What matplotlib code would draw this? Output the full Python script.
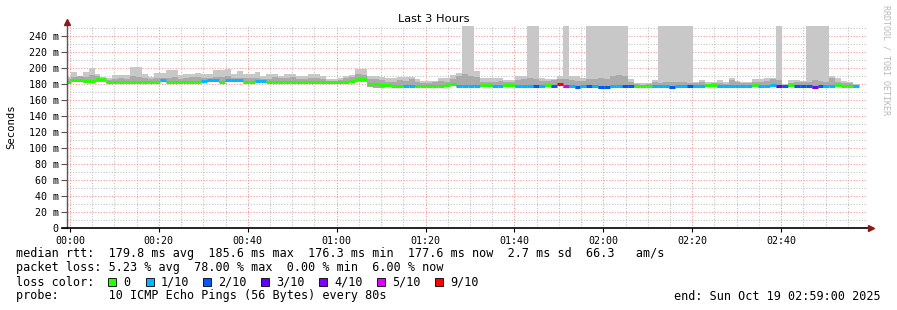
import numpy as np
import matplotlib
matplotlib.use("Agg")
import matplotlib.pyplot as plt
from matplotlib.patches import Rectangle
from matplotlib.ticker import MultipleLocator

plt.rcParams['font.family'] = ['DejaVu Sans Mono']

# median rtt per 80 s step (ms)
median = [
    183, 185, 185, 183.5, 184, 186, 186, 183, 183, 183, 183, 183, 183, 183, 183, 183,
    184.5, 183, 183, 183, 182.5, 182.5, 183, 184, 184.5, 184.5, 183, 185, 185, 184.5, 183, 182.5, 184, 184,
    182.5, 182.5, 183, 182.5, 182.5, 182.5, 183, 182.5, 182.5, 182.5, 183, 182, 182, 183, 184, 186, 186,
    179.5, 179.5, 178.5, 178.5, 178, 178, 177.5, 177.5, 178, 178, 178, 178, 178, 178.5, 180, 178, 178,
    177.5, 177.5, 178.5, 178.5, 177.5, 177.5, 178.5, 178.5, 177.5, 177.5, 177.5, 177, 177.5, 178.5, 177.5, 180,
    177, 177.5, 176.5, 177.5, 177, 177.5, 176.5, 176.5, 177.5, 177.5, 177, 177, 178, 178, 178, 177.5, 177.5,
    177.5, 176.5, 177.5, 177.5, 177, 177.5, 177.5, 178.5, 178.5, 177.5, 177.5, 177.5, 177.5, 177.5, 177.5, 178.5,
    177.5, 177.5, 178.5, 178, 177, 178.5, 177, 177, 177, 176.5, 177, 177.5, 178, 179, 178, 178, 177.5,
]

# lost pings out of 10 per step
loss = [
    0, 0, 0, 0, 0, 0, 0, 0, 0, 0,
    0, 0, 0, 0, 0, 0, 1, 0, 0, 0,
    0, 0, 0, 1, 1, 1, 0, 1, 1, 1,
    0, 0, 1, 1, 0, 0, 0, 0, 0, 0,
    0, 0, 0, 0, 0, 0, 0, 0, 0, 0,
    0, 0, 0, 0, 0, 0, 0, 1, 1, 0,
    0, 0, 0, 0, 0, 0, 1, 1, 1, 1,
    0, 0, 1, 1, 0, 0, 1, 1, 1, 2,
    1, 0, 2, 9, 5, 1, 2, 1, 2, 1,
    2, 2, 1, 1, 2, 2, 0, 0, 0, 1,
    1, 1, 2, 1, 1, 2, 1, 1, 0, 0,
    1, 1, 1, 1, 1, 1, 0, 1, 1, 1,
    3, 2, 0, 2, 2, 2, 4, 2, 1, 1,
    0, 0, 0, 1,
]

# slowest ping per step (ms)
hi = [
    189, 195, 189, 195, 200, 193, 189, 188, 191, 191,
    191, 201, 201, 193, 189, 194, 194, 197, 197, 191,
    193, 193, 194, 193, 193, 197, 197, 199, 192, 196,
    193, 192, 195, 190, 192, 192, 190, 193, 193, 190,
    190, 193, 193, 190, 186, 186, 188, 190, 191, 199,
    199, 190, 190, 189, 187, 187, 189, 189, 189, 186,
    184, 184, 184, 187, 187, 191, 194, 260, 260, 196,
    187, 187, 187, 187, 185, 185, 190, 190, 260, 260,
    187, 186, 186, 190, 260, 190, 190, 188, 260, 260,
    260, 260, 260, 260, 260, 186, 181, 181, 181, 185,
    260, 260, 260, 260, 260, 260, 183, 185, 183, 183,
    185, 182, 188, 184, 183, 183, 186, 186, 188, 188,
    260, 180, 185, 185, 184, 260, 260, 260, 260, 190,
    187, 184, 183, 180,
]

# inner smoke top per step (ms)
hi2 = [
    186, 189, 190, 189, 191, 190, 188, 185, 186, 187,
    186, 190, 189, 188, 186, 188, 187, 188, 189, 186,
    188, 189, 189, 188, 187, 189, 189, 190, 188, 188,
    187, 187, 188, 186, 186, 189, 188, 187, 189, 186,
    186, 188, 187, 186, 184, 184, 185, 187, 189, 192,
    191, 186, 186, 185, 183, 183, 185, 184, 186, 183,
    181, 181, 182, 184, 183, 186, 190, 193, 190, 189,
    183, 183, 183, 184, 182, 183, 185, 186, 188, 186,
    184, 184, 185, 186, 186, 185, 184, 184, 186, 186,
    187, 186, 190, 191, 190, 182, 180, 179, 180, 182,
    181, 182, 183, 183, 182, 181, 181, 182, 180, 181,
    181, 180, 185, 182, 181, 181, 182, 183, 184, 186,
    185, 179, 181, 182, 182, 183, 185, 184, 183, 187,
    183, 181, 181, 179,
]

# fastest ping per step (ms)
lo = [
    181, 182, 182, 181, 182, 182, 182, 181, 181, 181,
    181, 181, 181, 181, 181, 181, 182, 181, 181, 181,
    181, 181, 181, 182, 182, 182, 181, 182, 182, 182,
    181, 181, 182, 182, 181, 181, 181, 181, 181, 181,
    181, 181, 181, 181, 181, 180, 180, 181, 182, 183,
    183, 176, 175, 175, 176, 176, 175, 176, 176, 176,
    176, 176, 176, 176, 176, 177, 176, 176, 176, 176,
    176, 176, 176, 176, 176, 176, 175, 175, 175, 175,
    175, 176, 175, 177, 175, 175, 174, 175, 175, 175,
    174, 174, 175, 175, 175, 175, 176, 176, 176, 175,
    175, 175, 174, 175, 175, 175, 175, 175, 176, 176,
    175, 175, 175, 175, 175, 175, 176, 175, 175, 176,
    175, 175, 176, 175, 175, 175, 174, 175, 175, 176,
    177, 176, 176, 175,
]

loss_labels = ["0", "1/10", "2/10", "3/10", "4/10", "5/10", "9/10"]
loss_values = [0, 1, 2, 3, 4, 5, 9]
loss_colors = ["#26ff00", "#00b8ff", "#0059ff", "#5e00ff", "#7e00ff", "#dd00ff", "#ff0000"]

yticks = list(range(0, 241, 20))
xticks = list(range(0, 161, 20))
xlabels = ["00:00", "00:20", "00:40", "01:00", "01:20", "01:40", "02:00", "02:20", "02:40"]

W, H = 897, 310
fig = plt.figure(figsize=(W / 100, H / 100), dpi=100)
ax = fig.add_axes([67 / W, (H - 228) / H, 800 / W, 201.6 / H])

step = 80 / 60          # probe interval in minutes
start = -68 / 60        # first step start, minutes after 00:00
t = start + np.arange(len(median)) * step
lo_a = np.array(lo)

# smoke
ax.bar(t, np.array(hi) - lo_a, bottom=lo_a, width=step, align='edge',
       color='#c8c8c8', linewidth=0, zorder=2)
ax.bar(t, np.array(hi2) - lo_a, bottom=lo_a, width=step, align='edge',
       color='#aaaaaa', linewidth=0, zorder=3)

# median line coloured by loss
cmap = dict(zip(loss_values, loss_colors))
ax.hlines(median, t, t + step, colors=[cmap[v] for v in loss], linewidth=2.2, zorder=4)

ax.set_xlim(-0.67, 179.33)
ax.set_ylim(0, 252)

ax.set_xticks(xticks)
ax.set_xticklabels(xlabels)
ax.xaxis.set_minor_locator(MultipleLocator(5))
ax.set_yticks(yticks)
ax.set_yticklabels(["0" if v == 0 else "%d m" % v for v in yticks])
ax.yaxis.set_minor_locator(MultipleLocator(10))

ax.grid(which='minor', color='#c4c4c4', linestyle=(0, (1, 1.5)), linewidth=0.8)
ax.grid(which='major', color='#f09a9a', linestyle=(0, (1, 1.5)), linewidth=0.8)
ax.set_axisbelow(True)

ax.tick_params(axis='both', which='major', labelsize=7.2, colors='#000000', pad=2)
ax.tick_params(axis='y', which='major', length=4, color='#555555')
ax.tick_params(axis='x', which='major', length=3, color='#000000', pad=3)
ax.tick_params(which='minor', length=0)

for s in ax.spines.values():
    s.set_visible(False)

# axes with arrows
ax.plot([0, 0], [0, 1.02], transform=ax.transAxes, color='#555555', lw=1, clip_on=False, zorder=5)
ax.plot([-5 / 800, 1.003], [0, 0], transform=ax.transAxes, color='#000000', lw=1.2, clip_on=False, zorder=5)
ax.plot([0], [1.022], marker='^', ms=4, color='#8b1a1a', transform=ax.transAxes, clip_on=False, zorder=6)
ax.plot([1.005], [0], marker='>', ms=4, color='#8b1a1a', transform=ax.transAxes, clip_on=False, zorder=6)

fig.text(434 / W, 1 - 19 / H, "Last 3 Hours", ha='center', va='center', fontsize=8.2,
         family='DejaVu Sans')
fig.text(11 / W, 1 - 127 / H, "Seconds", rotation=90, ha='center', va='center', fontsize=7.7)
fig.text(886 / W, 1 - 5 / H, "RRDTOOL / TOBI OETIKER", rotation=270, ha='center', va='top',
         fontsize=6, color='#b8b8b8')

fs = 8.45
def line(y, s, x=16, ha='left'):
    fig.text(x / W, 1 - y / H, s, ha=ha, va='center', fontsize=fs)

line(254, "median rtt:  179.8 ms avg  185.6 ms max  176.3 ms min  177.6 ms now  2.7 ms sd  66.3   am/s")
line(268, "packet loss: 5.23 % avg  78.00 % max  0.00 % min  6.00 % now")
line(282, "loss color:")
line(296, "probe:       10 ICMP Echo Pings (56 Bytes) every 80s")
line(296, "end: Sun Oct 19 02:59:00 2025", x=881, ha='right')

box_x = [108, 146, 203, 261, 319, 377, 435]
for bx, lab, col in zip(box_x, loss_labels, loss_colors):
    fig.add_artist(Rectangle((bx / W, 1 - 286 / H), 8 / W, 8 / H, transform=fig.transFigure,
                             facecolor=col, edgecolor='#000000', linewidth=0.6))
    line(282, lab, x=bx + 15)

fig.savefig("out.png", dpi=100)
